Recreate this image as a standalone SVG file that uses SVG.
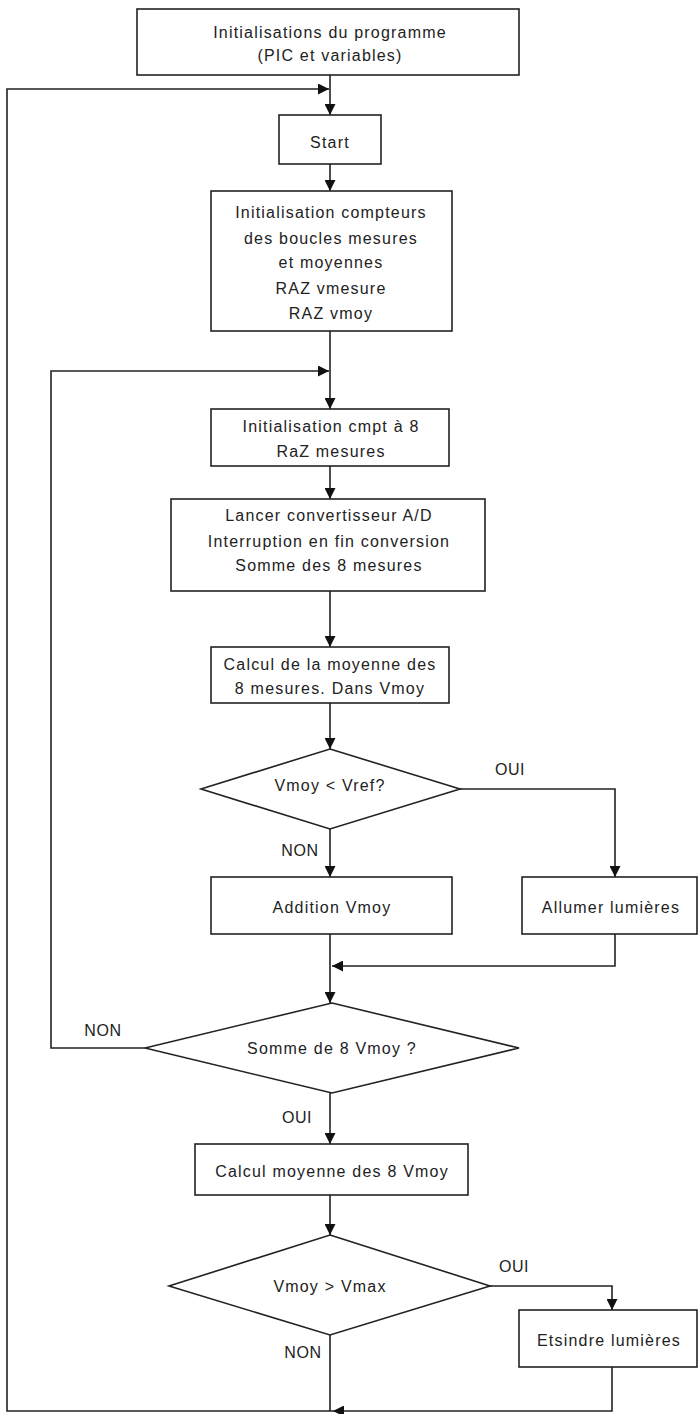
<svg xmlns="http://www.w3.org/2000/svg" width="699" height="1414" viewBox="0 0 699 1414">
<defs>
<style>
.box{fill:#fff;stroke:#222;stroke-width:1.6}
.t{font-family:"Liberation Sans",Arial,sans-serif;font-size:16px;letter-spacing:1.2px;fill:#222;text-anchor:middle}
.lbl{font-family:"Liberation Sans",Arial,sans-serif;font-size:16px;letter-spacing:0.6px;fill:#222;text-anchor:middle}
.c{fill:none;stroke:#222;stroke-width:1.6}
</style>
<marker id="ah" viewBox="0 0 10 10" refX="10" refY="5" markerWidth="11" markerHeight="11" markerUnits="userSpaceOnUse" orient="auto">
<path d="M0,0 L10,5 L0,10 Z" fill="#111"/>
</marker>
</defs>
<rect width="699" height="1414" fill="#fff"/>
<g id="connectors">
<path class="c" d="M330,75 V115" marker-end="url(#ah)"/>
<path class="c" d="M612,1367 V1411 H333" marker-end="url(#ah)"/>
<path class="c" d="M333,1411 H7 V89 H329" marker-end="url(#ah)"/>
<path class="c" d="M330,1335 V1411"/>
<path class="c" d="M330,164 V191" marker-end="url(#ah)"/>
<path class="c" d="M330,331 V409" marker-end="url(#ah)"/>
<path class="c" d="M145,1048 H51 V371 H329" marker-end="url(#ah)"/>
<path class="c" d="M330,466 V499" marker-end="url(#ah)"/>
<path class="c" d="M330,591 V647" marker-end="url(#ah)"/>
<path class="c" d="M330,703 V749" marker-end="url(#ah)"/>
<path class="c" d="M330,829 V877" marker-end="url(#ah)"/>
<path class="c" d="M460,789 H615 V877" marker-end="url(#ah)"/>
<path class="c" d="M330,934 V1003" marker-end="url(#ah)"/>
<path class="c" d="M615,934 V966 H332" marker-end="url(#ah)"/>
<path class="c" d="M330,1093 V1144" marker-end="url(#ah)"/>
<path class="c" d="M330,1195 V1235" marker-end="url(#ah)"/>
<path class="c" d="M490,1286 H612 V1310" marker-end="url(#ah)"/>
</g>
<g id="n_init_prog">
<rect class="box" x="137" y="9" width="382" height="66"/>
<text class="t" x="330" y="38">Initialisations du programme</text>
<text class="t" x="330" y="61">(PIC et variables)</text>
</g>
<g id="n_start">
<rect class="box" x="279" y="115" width="102" height="49"/>
<text class="t" x="330" y="148">Start</text>
</g>
<g id="n_init_compteurs">
<rect class="box" x="211" y="191" width="241" height="140"/>
<text class="t" x="331" y="218">Initialisation compteurs</text>
<text class="t" x="331" y="244">des  boucles  mesures</text>
<text class="t" x="331" y="268">et moyennes</text>
<text class="t" x="331" y="294">RAZ vmesure</text>
<text class="t" x="331" y="319">RAZ vmoy</text>
</g>
<g id="n_init_cmpt">
<rect class="box" x="211" y="409" width="238" height="57"/>
<text class="t" x="331" y="432">Initialisation cmpt à 8</text>
<text class="t" x="331" y="457">RaZ mesures</text>
</g>
<g id="n_lancer">
<rect class="box" x="171" y="499" width="314" height="92"/>
<text class="t" x="329" y="521">Lancer convertisseur A/D</text>
<text class="t" x="329" y="547">Interruption en fin conversion</text>
<text class="t" x="329" y="571">Somme des 8 mesures</text>
</g>
<g id="n_calcul_moy">
<rect class="box" x="211" y="647" width="238" height="56"/>
<text class="t" x="330" y="670">Calcul de la moyenne des</text>
<text class="t" x="330" y="694">8 mesures.  Dans  Vmoy</text>
</g>
<g id="n_dec_vref">
<polygon class="box" points="330,749 460,789 330,829 201,789"/>
<text class="t" x="330" y="791">Vmoy &lt; Vref?</text>
</g>
<g id="n_addition">
<rect class="box" x="211" y="877" width="241" height="57"/>
<text class="t" x="332" y="913">Addition Vmoy</text>
</g>
<g id="n_allumer">
<rect class="box" x="522" y="877" width="175" height="57"/>
<text class="t" x="611" y="913">Allumer lumières</text>
</g>
<g id="n_dec_somme">
<polygon class="box" points="332,1003 519,1048 332,1093 145,1048"/>
<text class="t" x="332" y="1054">Somme de 8 Vmoy ?</text>
</g>
<g id="n_calcul_8vmoy">
<rect class="box" x="195" y="1144" width="273" height="51"/>
<text class="t" x="332" y="1177">Calcul moyenne des 8 Vmoy</text>
</g>
<g id="n_dec_vmax">
<polygon class="box" points="330,1235 490,1286 330,1335 169,1286"/>
<text class="t" x="330" y="1292">Vmoy &gt; Vmax</text>
</g>
<g id="n_eteindre">
<rect class="box" x="519" y="1310" width="178" height="57"/>
<text class="t" x="609" y="1346">Etsindre lumières</text>
</g>
<g id="labels">
<text class="lbl" x="510" y="775">OUI</text>
<text class="lbl" x="300" y="856">NON</text>
<text class="lbl" x="103" y="1036">NON</text>
<text class="lbl" x="297" y="1123">OUI</text>
<text class="lbl" x="514" y="1272">OUI</text>
<text class="lbl" x="303" y="1358">NON</text>
</g>
</svg>
